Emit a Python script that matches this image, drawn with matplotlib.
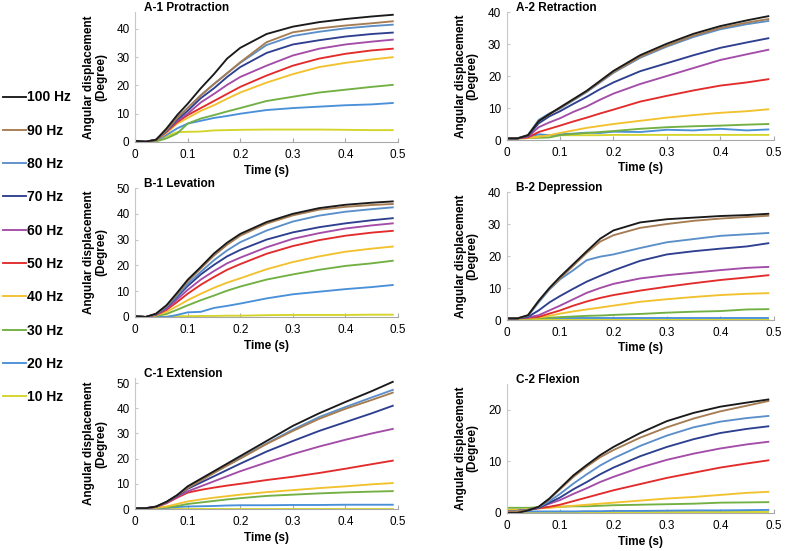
import numpy as np
import matplotlib
matplotlib.use("Agg")
import matplotlib.pyplot as plt

plt.rcParams['font.family'] = ['Liberation Sans', 'DejaVu Sans']

########################################################################
# time points (s)
t = [0, 0.02, 0.04, 0.06, 0.08, 0.1, 0.125, 0.15, 0.175, 0.2, 0.25, 0.3, 0.35, 0.4, 0.45, 0.49]

freqs = ["100 Hz", "90 Hz", "80 Hz", "70 Hz", "60 Hz", "50 Hz", "40 Hz", "30 Hz", "20 Hz", "10 Hz"]
colors = ["#1a1a1a", "#a67c52", "#5b8fc9", "#2e3f8f", "#a34ca8",
          "#e32b2b", "#f2c12e", "#72b043", "#4a90d9", "#d4d42a"]

# angular displacement (degree), one row per frequency, 100 Hz first
protraction = [
    [0.4, 0.1, 0.8, 4.8, 9.5, 13.5, 19, 24, 29.5, 33.3, 38.2, 40.8, 42.4, 43.5, 44.4, 45],
    [0.4, 0.1, 0.8, 4.2, 8.5, 12, 16.5, 20.5, 24.3, 28.2, 35.3, 38.8, 40.2, 41.2, 42, 42.7],
    [0.4, 0.1, 0.8, 4.2, 8.5, 12, 16.5, 20.5, 24.3, 28, 34.3, 37.5, 39, 40.2, 41, 41.5],
    [0.4, 0.1, 0.8, 4, 8, 11, 15.5, 19, 23, 26.5, 31.5, 34.5, 36, 37.3, 38.2, 38.7],
    [0.4, 0.1, 0.7, 3.8, 7.5, 10, 14, 17, 20.2, 23, 27, 30.6, 33, 34.5, 35.5, 36.2],
    [0.4, 0.1, 0.7, 3.6, 7, 9.5, 12, 14.5, 17, 19.5, 23.5, 27, 29.5, 31.2, 32.4, 33],
    [0.4, 0.1, 0.6, 3.2, 6.5, 8.5, 11, 13, 15.3, 17.5, 21, 24, 26.5, 28, 29.2, 30],
    [0.3, 0, 0.2, 1.3, 3, 6.5, 8.3, 9.5, 10.8, 12, 14.5, 16, 17.5, 18.5, 19.5, 20.2],
    [0.3, 0, 0.4, 2.5, 4.8, 6.5, 7.5, 8.5, 9.2, 10, 11.3, 12, 12.5, 13, 13.3, 13.8],
    [0.3, 0, 0.4, 2, 3.5, 3.6, 3.7, 4.1, 4.2, 4.3, 4.4, 4.4, 4.4, 4.3, 4.2, 4.2],
]
retraction = [
    [0.5, 0.5, 1.5, 5.9, 8.1, 10.2, 12.8, 15.4, 18.5, 21.6, 26.5, 30.1, 33.2, 35.6, 37.4, 38.7],
    [0.5, 0.5, 1.5, 5.9, 8.0, 10, 12.6, 15.2, 18.2, 21.2, 26, 29.5, 32.6, 35, 36.7, 37.8],
    [0.5, 0.5, 1.6, 6.3, 8.3, 9.8, 12.4, 15, 18, 21, 25.7, 29.2, 32.2, 34.6, 36.2, 37.2],
    [0.5, 0.5, 1.3, 5.2, 7.4, 9, 11.3, 13.5, 15.9, 18, 21.5, 24, 26.5, 28.8, 30.5, 31.8],
    [0.5, 0.5, 1.0, 4.0, 5.5, 6.8, 8.8, 10.5, 12.6, 14.5, 17.5, 20, 22.5, 25, 26.8, 28.2],
    [0.5, 0.5, 0.8, 2.5, 3.5, 4.5, 5.8, 7, 8.3, 9.5, 12, 13.8, 15.5, 17, 18, 19],
    [0.5, 0.5, 0.6, 1.0, 1.5, 2.2, 3, 3.8, 4.4, 5, 6, 7, 7.8, 8.5, 9, 9.6],
    [0.5, 0.5, 0.6, 0.7, 0.8, 1.5, 1.9, 2.2, 2.5, 2.8, 3.5, 4, 4.3, 4.5, 4.8, 5],
    [0.5, 0.5, 1.0, 1.8, 1.5, 1.8, 2.0, 2.3, 2.2, 2.6, 2.5, 3.2, 3.0, 3.5, 3.0, 3.3],
    [0.5, 0.5, 0.8, 1.2, 1.5, 1.5, 1.5, 1.5, 1.5, 1.6, 1.6, 1.6, 1.6, 1.6, 1.6, 1.6],
]
levation = [
    [0.3, 0.0, 1.3, 4.6, 9.4, 14.4, 19.4, 24.6, 28.8, 32.2, 36.8, 40, 42.2, 43.5, 44.3, 44.8],
    [0.3, 0.0, 1.2, 4.3, 8.9, 13.8, 18.8, 23.8, 28, 31.5, 36.2, 39.4, 41.6, 42.7, 43.4, 43.8],
    [0.3, 0.0, 1.1, 4.0, 8.3, 12.8, 17.5, 22, 25.8, 29, 33.5, 37, 39.3, 40.8, 41.8, 42.5],
    [0.3, 0.0, 1.0, 3.8, 7.8, 12, 16.5, 20.2, 23.5, 26, 30, 32.8, 34.8, 36.3, 37.5, 38.3],
    [0.3, 0.0, 0.9, 3.3, 6.8, 10.5, 14.5, 17.8, 20.8, 23, 27, 30.3, 32.5, 34.3, 35.5, 36.3],
    [0.3, 0.0, 0.8, 2.8, 5.8, 9, 12.5, 15.5, 18.3, 20.5, 24.5, 27.5, 29.8, 31.5, 32.7, 33.4],
    [0.3, 0.0, 0.6, 2.0, 4.2, 6.5, 9, 11.3, 13.3, 15, 18.5, 21.3, 23.5, 25.3, 26.5, 27.3],
    [0.3, 0.0, 0.4, 1.2, 2.8, 4.5, 6.5, 8.3, 10.2, 11.8, 14.5, 16.5, 18.3, 19.8, 20.8, 21.8],
    [0.3, 0.0, 0.1, 0.0, 0.8, 1.8, 2.0, 3.5, 4.3, 5.2, 7.2, 8.8, 9.8, 10.8, 11.6, 12.4],
    [0.3, 0.0, 0.1, 0.2, 0.3, 0.3, 0.4, 0.4, 0.5, 0.5, 0.7, 0.8, 0.8, 0.8, 0.9, 0.9],
]
depression = [
    [0.5, 0.5, 1.5, 6, 10, 13.5, 17.5, 21.5, 25.4, 28, 30.5, 31.5, 32, 32.5, 32.8, 33.2],
    [0.5, 0.5, 1.5, 6, 9.8, 13, 17, 21, 24.5, 26.5, 28.8, 30, 31, 31.7, 32.2, 32.6],
    [0.5, 0.5, 1.3, 5.5, 9.5, 12.7, 15.6, 18.7, 19.8, 20.5, 22.5, 24.3, 25.3, 26.3, 26.8, 27.2],
    [0.5, 0.5, 1.0, 3, 5.5, 7.5, 9.8, 12, 13.8, 15.5, 18.5, 20.5, 21.5, 22.3, 23, 24],
    [0.5, 0.5, 0.8, 1.5, 3, 4.5, 6.5, 8.5, 10, 11.3, 13, 14, 14.8, 15.6, 16.3, 16.6],
    [0.5, 0.5, 0.7, 1.0, 2, 3, 4.5, 5.8, 6.9, 7.8, 9.2, 10.4, 11.5, 12.5, 13.3, 14],
    [0.5, 0.5, 0.6, 0.8, 1.3, 2, 2.7, 3.3, 3.9, 4.5, 5.7, 6.5, 7.2, 7.8, 8.2, 8.4],
    [0.5, 0.5, 0.5, 0.6, 0.7, 0.9, 1.1, 1.3, 1.4, 1.6, 1.9, 2.3, 2.6, 2.8, 3.3, 3.4],
    [0.5, 0.5, 0.5, 0.5, 0.5, 0.5, 0.5, 0.5, 0.5, 0.5, 0.5, 0.5, 0.5, 0.5, 0.5, 0.5],
    [0.2, 0.2, 0.2, 0.2, 0.1, 0.1, 0.1, 0.1, 0.1, 0.1, 0.1, 0.1, 0.1, 0.1, 0.1, 0.1],
]
extension = [
    [0.3, 0.3, 1.0, 2.9, 5.5, 9, 12, 15, 18, 21, 27, 33, 38, 42.5, 46.8, 50.5],
    [0.3, 0.3, 0.9, 2.8, 5.4, 8.3, 11.3, 14.3, 17.2, 20, 25.8, 31, 35.8, 39.8, 43.3, 46.2],
    [0.3, 0.3, 0.9, 2.8, 5.5, 8.5, 11.5, 14.5, 17.5, 20.3, 26, 31.5, 36.5, 40.5, 44.3, 47.3],
    [0.3, 0.3, 0.9, 2.7, 5.2, 8, 10.5, 13, 15.5, 18, 22.8, 27, 31, 34.5, 38, 41],
    [0.3, 0.3, 0.8, 2.5, 4.8, 7, 9, 11, 13, 15, 18.5, 21.8, 24.8, 27.5, 30, 31.8],
    [0.3, 0.3, 0.8, 2.3, 4.5, 6.5, 7.6, 8.5, 9.3, 10, 11.5, 12.8, 14.3, 16, 17.8, 19.2],
    [0.3, 0.3, 0.5, 1.0, 2, 3, 3.8, 4.5, 5.1, 5.7, 6.7, 7.5, 8.3, 9, 9.8, 10.3],
    [0.3, 0.3, 0.4, 0.7, 1.2, 2, 2.6, 3.2, 3.8, 4.3, 5.2, 5.7, 6.2, 6.6, 6.9, 7.1],
    [0.3, 0.3, 0.3, 0.5, 0.8, 1, 1.1, 1.2, 1.4, 1.5, 1.5, 1.6, 1.6, 1.7, 1.7, 1.7],
    [0.1, 0.1, 0.1, 0.1, 0.1, 0.1, 0.1, 0.1, 0.1, 0.1, 0.1, 0.1, 0.1, 0.1, 0.1, 0.1],
]
flexion = [
    [0.0, 0.0, 0.5, 1.2, 2.8, 4.8, 7.3, 9.3, 11.2, 12.8, 15.5, 17.8, 19.4, 20.6, 21.4, 22],
    [0.3, 0.3, 0.6, 1.2, 2.7, 4.6, 7, 9, 10.8, 12.2, 14.6, 16.6, 18.3, 19.7, 20.8, 21.7],
    [0.3, 0.4, 0.6, 1.1, 2.3, 3.7, 5.7, 7.5, 9.2, 10.6, 13, 15, 16.6, 17.7, 18.4, 18.8],
    [0.3, 0.4, 0.6, 1.0, 2.0, 3.0, 4.6, 6, 7.5, 8.8, 11, 12.8, 14.3, 15.5, 16.3, 16.8],
    [0.3, 0.4, 0.6, 1.0, 1.8, 2.5, 3.7, 4.8, 6, 7, 8.8, 10.3, 11.5, 12.5, 13.3, 13.8],
    [0.3, 0.4, 0.6, 0.9, 1.2, 1.6, 2.3, 3, 3.7, 4.4, 5.6, 6.8, 7.8, 8.8, 9.6, 10.2],
    [0.6, 0.6, 0.7, 0.9, 1.0, 1.2, 1.4, 1.6, 1.8, 2.0, 2.4, 2.8, 3.1, 3.5, 3.9, 4.1],
    [1.0, 1.0, 1.0, 1.1, 1.1, 1.2, 1.3, 1.3, 1.4, 1.5, 1.6, 1.7, 1.8, 2.0, 2.05, 2.1],
    [0.3, 0.3, 0.3, 0.3, 0.3, 0.3, 0.3, 0.35, 0.35, 0.4, 0.4, 0.45, 0.5, 0.5, 0.55, 0.6],
    [0.1, 0.1, 0.1, 0.1, 0.1, 0.1, 0.1, 0.1, 0.1, 0.1, 0.1, 0.1, 0.1, 0.1, 0.1, 0.1],
]

panels = [
    ("A-1 Protraction", protraction, [0.1718, 0.7423, 0.3346, 0.2360], 46, [0, 10, 20, 30, 40]),
    ("A-2 Retraction", retraction, [0.6446, 0.7459, 0.3397, 0.2323], 40, [0, 10, 20, 30, 40]),
    ("B-1 Levation", levation, [0.1718, 0.4247, 0.3346, 0.2341], 50, [0, 10, 20, 30, 40, 50]),
    ("B-2 Depression", depression, [0.6446, 0.4192, 0.3397, 0.2323], 40, [0, 10, 20, 30, 40]),
    ("C-1 Extension", extension, [0.1718, 0.0762, 0.3346, 0.2377], 52, [0, 10, 20, 30, 40, 50]),
    ("C-2 Flexion", flexion, [0.6446, 0.0690, 0.3397, 0.2341], 25, [0, 10, 20]),
]

########################################################################
fig = plt.figure(figsize=(7.86, 5.51), dpi=100)

for title, data, rect, ymax, yticks in panels:
    ax = fig.add_axes(rect)
    # draw low frequencies first so 100 Hz ends up on top
    for k in range(len(freqs) - 1, -1, -1):
        ax.plot(t, data[k], color=colors[k], lw=1.35, label=freqs[k])
    ax.set_xlim(0, 0.5)
    ax.set_ylim(0, ymax)
    ax.set_xticks([0, 0.1, 0.2, 0.3, 0.4, 0.5])
    ax.set_xticklabels(["0", "0.1", "0.2", "0.3", "0.4", "0.5"])
    ax.set_yticks(yticks)
    for s in ["top", "right"]:
        ax.spines[s].set_visible(False)
    ax.spines["left"].set_color("#c8c8c8")
    ax.spines["bottom"].set_color("#a8a8a8")
    ax.tick_params(axis="x", direction="in", length=3, color="#a8a8a8", labelsize=8.5, pad=5)
    ax.tick_params(axis="y", direction="in", length=2, color="#c8c8c8", labelsize=8.5, pad=4)
    ax.set_xlabel("Time (s)", fontsize=8.5, fontweight="bold")
    ax.xaxis.set_label_coords(0.5, -0.175)
    ax.set_ylabel("Angular displacement\n(Degree)", fontsize=8.5, fontweight="bold", linespacing=1.0)
    ax.yaxis.set_label_coords(-0.105, 0.5)
    ax.text(0.034, 1.03, title, transform=ax.transAxes, fontsize=8.5,
            fontweight="bold", va="center", ha="left")

# shared legend on the left, 100 Hz at the top
handles, labels = ax.get_legend_handles_labels()
handles = handles[::-1]; labels = labels[::-1]
fig.legend(handles, labels, loc="upper left", bbox_to_anchor=(0.004, 0.836),
           frameon=False, prop={"weight": "bold", "size": 10},
           handlelength=1.65, handletextpad=0.1, labelspacing=1.39,
           borderpad=0, borderaxespad=0)

fig.savefig("out.png", dpi=100)
